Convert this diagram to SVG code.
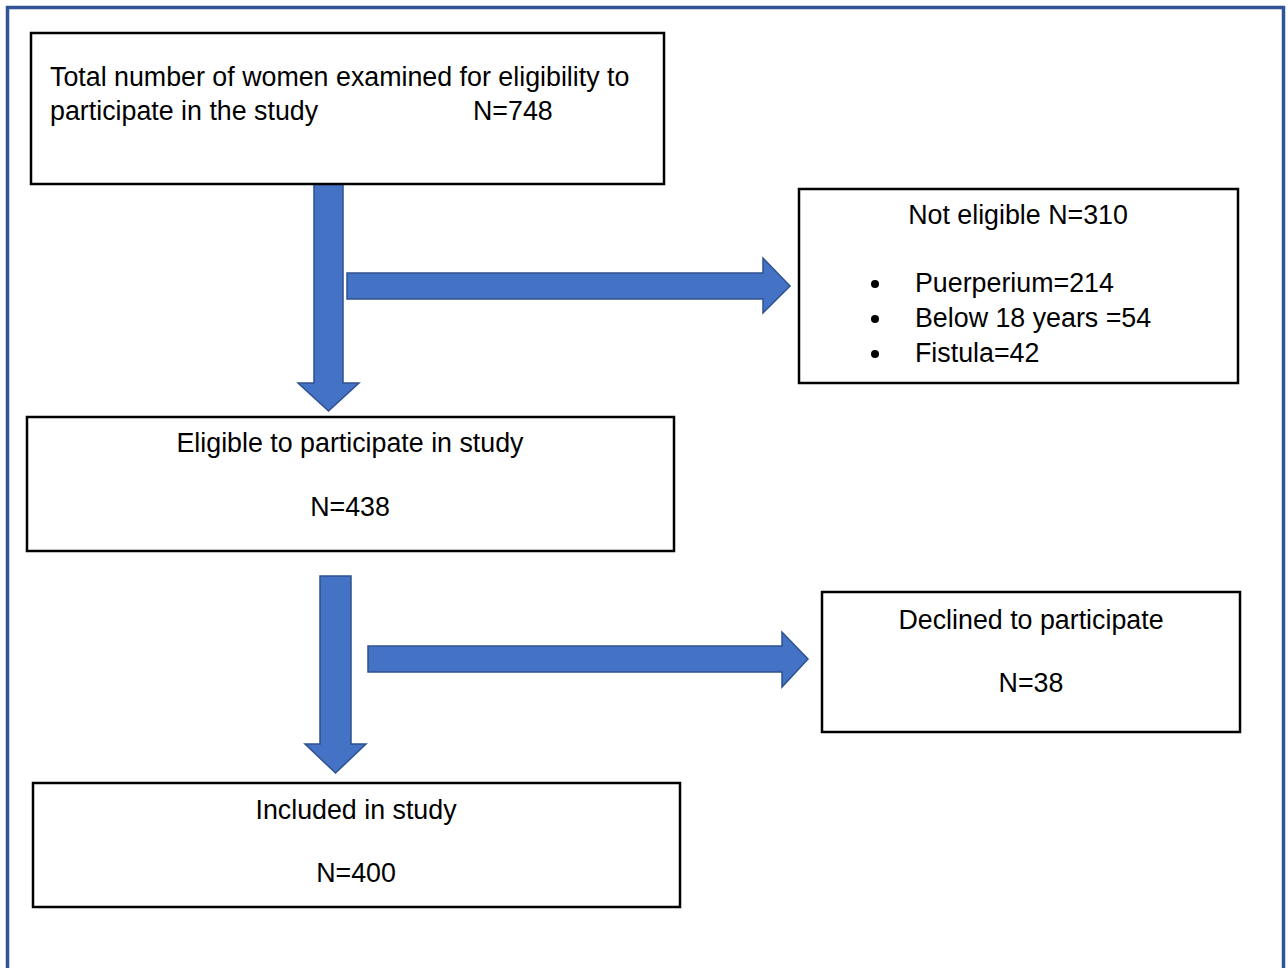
<svg xmlns="http://www.w3.org/2000/svg" width="1288" height="968" viewBox="0 0 1288 968">
<style>
.box{fill:#fff;stroke:#000;stroke-width:2.5}
.t{font-family:"Liberation Sans",Arial,sans-serif;font-size:26.8px;fill:#000}
.c{text-anchor:middle}
.arr{fill:#4472C4;stroke:#2F528F;stroke-width:1.5}
</style>
<rect width="1288" height="968" fill="#fff"/>
<path d="M7.5,980 V7.5 H1283.5 V980" fill="none" stroke="#2F5597" stroke-width="3.5"/>
<g id="connectors">
<path class="arr" d="M314,184 H343 V383 H359 L328.5,411 L298,383 H314 Z"/>
<path class="arr" d="M347,273 H763 V258 L790,286 L763,313 V299 H347 Z"/>
<path class="arr" d="M320,576 H351 V744 H366 L335.5,773 L305,744 H320 Z"/>
<path class="arr" d="M368,646 H782 V632 L808,659 L782,687 V672 H368 Z"/>
</g>
<g id="total">
<rect class="box" x="31" y="33" width="633" height="151"/>
<text class="t" x="50" y="86">Total number of women examined for eligibility to</text>
<text class="t" x="50" y="120">participate in the study</text>
<text class="t" x="473" y="120">N=748</text>
</g>
<g id="noteligible">
<rect class="box" x="799" y="189" width="439" height="194"/>
<text class="t c" x="1018" y="224">Not eligible N=310</text>
<circle cx="875" cy="284" r="4"/>
<circle cx="875" cy="319" r="4"/>
<circle cx="875" cy="354" r="4"/>
<text class="t" x="915" y="292">Puerperium=214</text>
<text class="t" x="915" y="327">Below 18 years =54</text>
<text class="t" x="915" y="362">Fistula=42</text>
</g>
<g id="eligible">
<rect class="box" x="27" y="417" width="647" height="134"/>
<text class="t c" x="350" y="452">Eligible to participate in study</text>
<text class="t c" x="350" y="516">N=438</text>
</g>
<g id="declined">
<rect class="box" x="822" y="592" width="418" height="140"/>
<text class="t c" x="1031" y="629">Declined to participate</text>
<text class="t c" x="1031" y="692">N=38</text>
</g>
<g id="included">
<rect class="box" x="33" y="783" width="647" height="124"/>
<text class="t c" x="356" y="819">Included in study</text>
<text class="t c" x="356" y="882">N=400</text>
</g>
</svg>
